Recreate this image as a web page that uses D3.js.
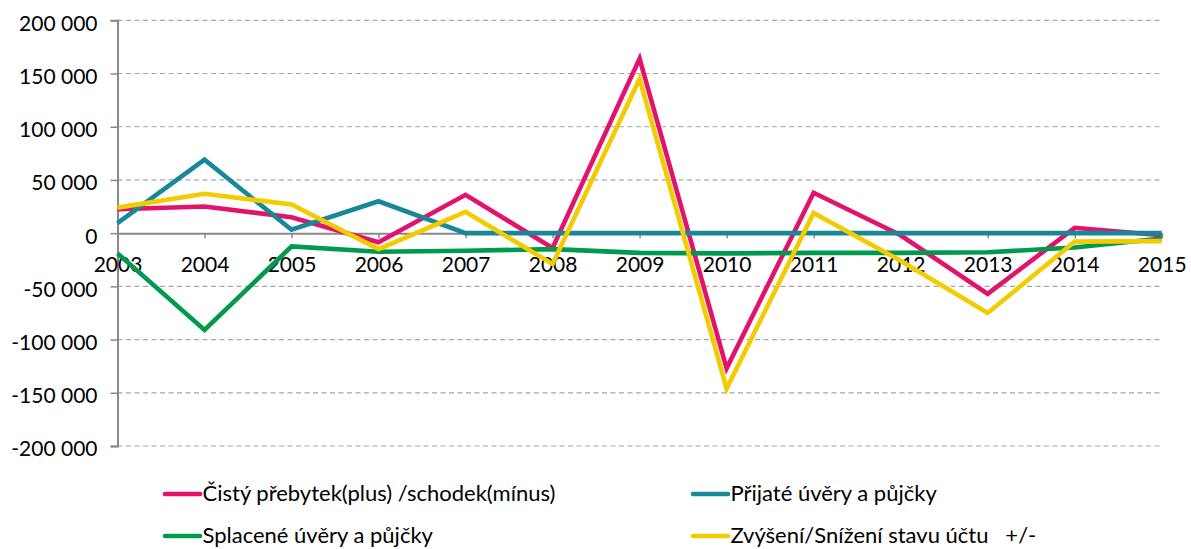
<!DOCTYPE html>
<html>
<head>
<meta charset="utf-8">
<script src="https://cdn.jsdelivr.net/npm/d3@7"></script>
<style>
  html, body { margin: 0; padding: 0; background: #fff; }
  svg { display: block; }
  text { font-family: Lato, "Open Sans", sans-serif; fill: #000; }
</style>
</head>
<body>
<svg id="chart" width="1191" height="549"></svg>
<script>
// Years on the category axis
const years = ["2003","2004","2005","2006","2007","2008","2009","2010","2011","2012","2013","2014","2015"];

// Series values (thousands)
const netBalance   = [22500, 25000, 15000, -8500, 36000, -14000, 164000, -127000, 38000, -2000, -57000, 5000, -2000];
const loansTaken   = [9500, 69000, 3200, 30000, 0, 0, 0, 0, 0, 0, 0, 0, 0];
const loansRepaid  = [-19000, -91000, -12500, -17500, -16500, -15000, -18500, -19000, -18500, -18500, -18000, -13500, -5000];
const accountDelta = [24000, 37000, 27000, -15000, 20000, -29000, 145000, -146000, 19000, -26000, -75000, -8000, -7500];

// Y axis tick values
const yTicks = [-200000, -150000, -100000, -50000, 0, 50000, 100000, 150000, 200000];

const seriesNames = [
  "Čistý přebytek(plus) /schodek(mínus)",
  "Přijaté úvěry a půjčky",
  "Splacené úvěry a půjčky",
  "Zvýšení/Snížení stavu účtu   +/-"
];
const seriesColors = ["#e2136b", "#17889a", "#009a4e", "#f2cb00"];

const series = [netBalance, loansTaken, loansRepaid, accountDelta].map((values, i) => ({
  name: seriesNames[i], color: seriesColors[i], values
}));

const svg = d3.select("#chart");
const plot = { left: 117.5, right: 1161.7, top: 20.3, bottom: 446 };

const x = d3.scalePoint().domain(years).range([plot.left, plot.right]);
const y = d3.scaleLinear().domain([-200000, 200000]).range([plot.bottom, plot.top]);

const locale = d3.formatLocale({ decimal: ",", thousands: " ", grouping: [3], currency: ["", " Kč"], minus: "-" });
const fmt = locale.format(",.0f");

const fontSize = 21;
const legendFontSize = 22;

// Dashed horizontal gridlines
svg.append("g")
  .selectAll("line")
  .data(yTicks.filter(d => d !== 0))
  .join("line")
  .attr("x1", plot.left).attr("x2", plot.right)
  .attr("y1", d => y(d)).attr("y2", d => y(d))
  .attr("stroke", "#a6a6a6")
  .attr("stroke-width", 1.2)
  .attr("stroke-dasharray", "5,3.5");

// Y axis
const yAxis = svg.append("g")
  .attr("transform", `translate(${plot.left},0)`)
  .call(d3.axisLeft(y).tickValues(yTicks).tickFormat(fmt).tickSize(7).tickPadding(13));
yAxis.select(".domain").attr("stroke", "#898989").attr("stroke-width", 2);
yAxis.selectAll(".tick line").attr("stroke", "#898989").attr("stroke-width", 1.5);
yAxis.selectAll("text")
  .attr("font-size", fontSize)
  .attr("font-family", "Lato, 'Open Sans', sans-serif")
  .attr("dy", "0.47em")
  .attr("fill", "#000");

// X axis at zero
const xAxis = svg.append("g")
  .attr("transform", `translate(0,${y(0)})`)
  .call(d3.axisBottom(x).tickSize(5).tickPadding(19));
xAxis.select(".domain").attr("stroke", "#898989").attr("stroke-width", 2);
xAxis.selectAll(".tick line").attr("stroke", "#898989").attr("stroke-width", 1.5);
xAxis.selectAll("text")
  .attr("font-size", fontSize)
  .attr("font-family", "Lato, 'Open Sans', sans-serif")
  .attr("fill", "#000");

// Series lines
const line = d3.line()
  .x((d, i) => x(years[i]))
  .y(d => y(d));

svg.append("g")
  .selectAll("path")
  .data(series)
  .join("path")
  .attr("d", d => line(d.values))
  .attr("fill", "none")
  .attr("stroke", d => d.color)
  .attr("stroke-width", 4.6)
  .attr("stroke-linejoin", "miter")
  .attr("stroke-miterlimit", 4);

// Legend: two rows, two columns
const legendPos = [
  { x: 165, y: 494 },
  { x: 693, y: 494 },
  { x: 165, y: 536 },
  { x: 693, y: 536 }
];
const legend = svg.append("g")
  .selectAll("g")
  .data(series)
  .join("g")
  .attr("transform", (d, i) => `translate(${legendPos[i].x},${legendPos[i].y})`);

legend.append("line")
  .attr("x1", 0).attr("x2", 35)
  .attr("y1", 0).attr("y2", 0)
  .attr("stroke", d => d.color)
  .attr("stroke-width", 4.6)
  .attr("stroke-linecap", "round");

legend.append("text")
  .attr("x", 37.5)
  .attr("y", 0)
  .attr("dy", "0.33em")
  .attr("font-size", legendFontSize)
  .style("white-space", "pre")
  .text(d => d.name);
</script>
</body>
</html>
